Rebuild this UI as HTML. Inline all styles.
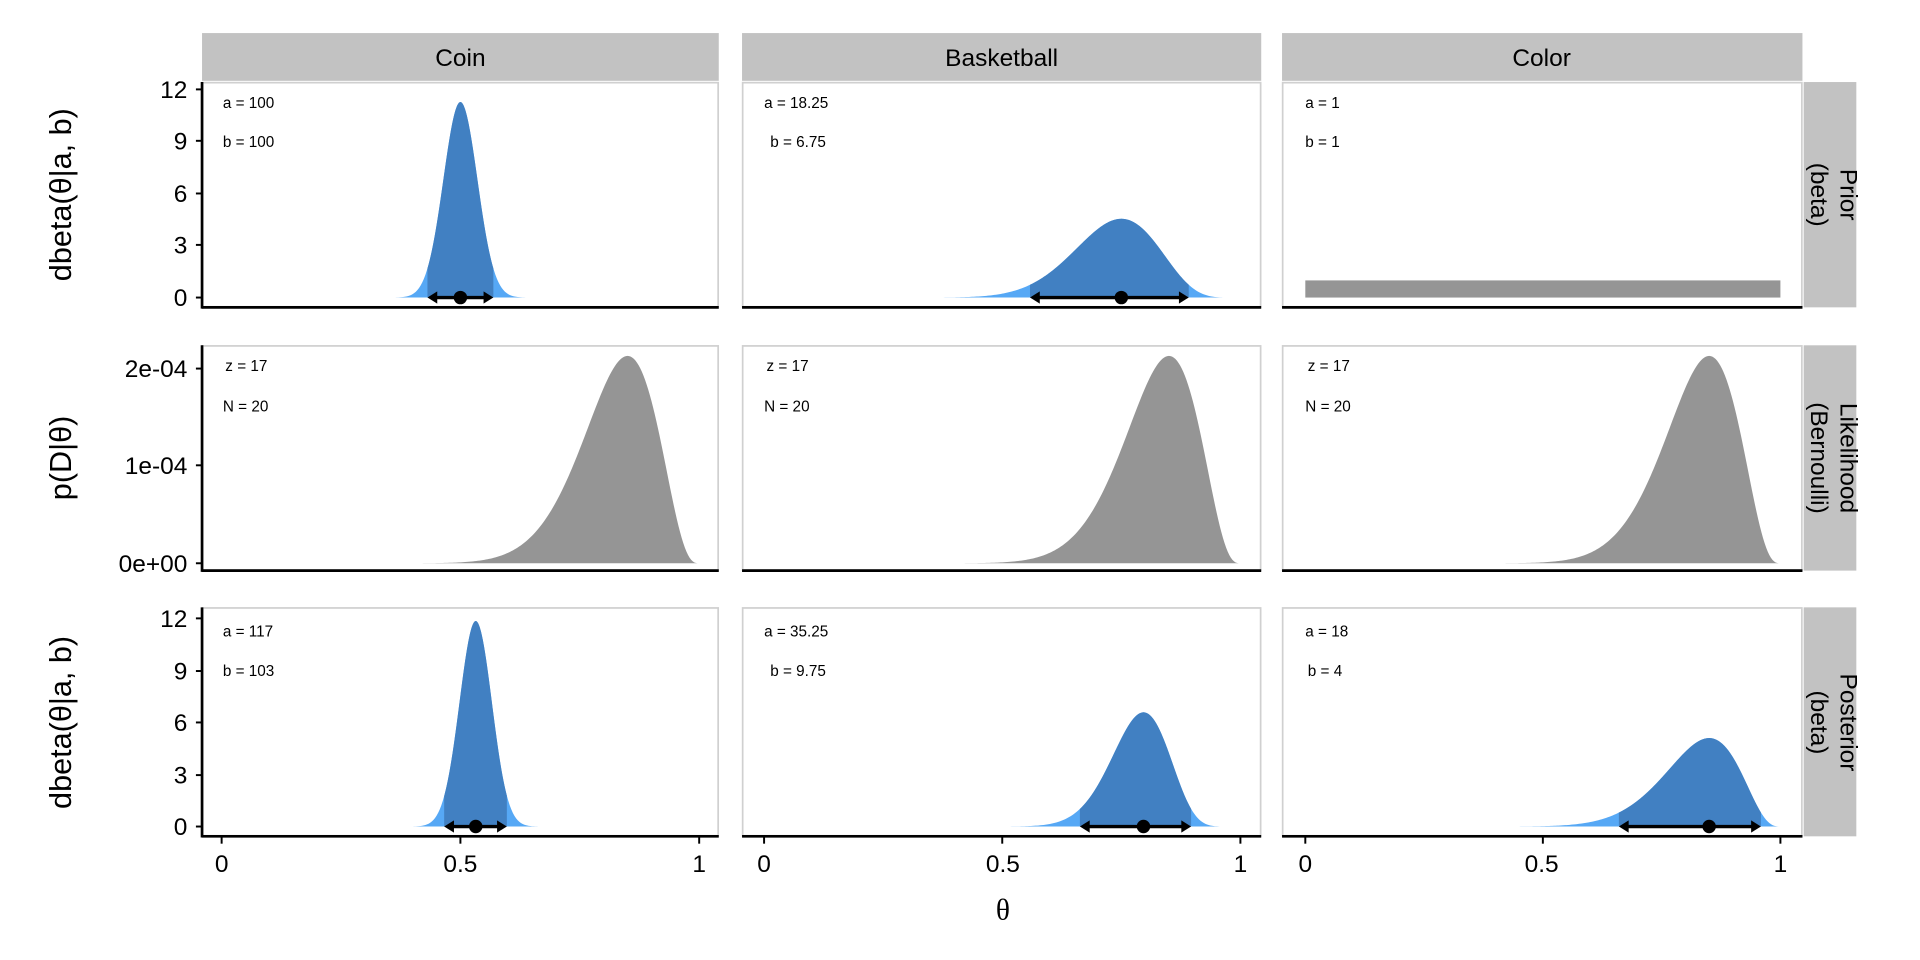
<!DOCTYPE html>
<html><head><meta charset="utf-8"><style>
html,body{margin:0;padding:0;background:#fff;}
svg{display:block;font-family:"Liberation Sans",Arial,sans-serif;}
</style></head><body>
<svg id="s" width="1920" height="960" viewBox="0 0 1568 784" xmlns="http://www.w3.org/2000/svg">
<rect width="1568" height="784" fill="#fff"/>
<g id="g"></g>
<rect x="165" y="27" width="422" height="39" fill="#c2c2c2"/>
<rect x="606" y="27" width="424" height="39" fill="#c2c2c2"/>
<rect x="1047" y="27" width="425" height="39" fill="#c2c2c2"/>
<text x="376" y="54" font-size="20" text-anchor="middle">Coin</text>
<text x="818" y="54" font-size="20" text-anchor="middle">Basketball</text>
<text x="1259" y="54" font-size="20" text-anchor="middle">Color</text>
<rect x="1473" y="67" width="43" height="184" fill="#c2c2c2"/>
<rect x="1473" y="282" width="43" height="184" fill="#c2c2c2"/>
<rect x="1473" y="496" width="43" height="187" fill="#c2c2c2"/>
<g font-size="20" text-anchor="middle">
<text transform="translate(1494,159) rotate(90)"><tspan x="0" y="-9">Prior</tspan><tspan x="0" y="15">(beta)</tspan></text>
<text transform="translate(1494,374) rotate(90)"><tspan x="0" y="-9">Likelihood</tspan><tspan x="0" y="15">(Bernoulli)</tspan></text>
<text transform="translate(1494,590) rotate(90)"><tspan x="0" y="-9">Posterior</tspan><tspan x="0" y="15">(beta)</tspan></text>
</g>
<g font-size="25" text-anchor="middle">
<text transform="translate(58,159) rotate(-90)">dbeta(θ|a, b)</text>
<text transform="translate(58,374) rotate(-90)">p(D|θ)</text>
<text transform="translate(58,590) rotate(-90)">dbeta(θ|a, b)</text>
</g>
<g font-size="20" text-anchor="end">
<text x="153" y="80">12</text><text x="153" y="122">9</text><text x="153" y="165">6</text><text x="153" y="207">3</text><text x="153" y="250">0</text>
<text x="153" y="308">2e-04</text><text x="153" y="387">1e-04</text><text x="153" y="467">0e+00</text>
<text x="153" y="512">12</text><text x="153" y="555">9</text><text x="153" y="597">6</text><text x="153" y="640">3</text><text x="153" y="682">0</text>
</g>
<g font-size="20" text-anchor="middle">
<text x="181" y="712">0</text><text x="376" y="712">0.5</text><text x="571" y="712">1</text>
<text x="624" y="712">0</text><text x="819" y="712">0.5</text><text x="1013" y="712">1</text>
<text x="1066" y="712">0</text><text x="1259" y="712">0.5</text><text x="1454" y="712">1</text>
</g>
<text x="819" y="751" font-size="24" text-anchor="middle" font-family="Liberation Serif,serif">θ</text>
<g font-size="12.5">
<text x="182" y="88">a = 100</text><text x="182" y="120">b = 100</text>
<text x="624" y="88">a = 18.25</text><text x="629" y="120">b = 6.75</text>
<text x="1066" y="88">a = 1</text><text x="1066" y="120">b = 1</text>
<text x="184" y="303">z = 17</text><text x="182" y="336">N = 20</text>
<text x="626" y="303">z = 17</text><text x="624" y="336">N = 20</text>
<text x="1068" y="303">z = 17</text><text x="1066" y="336">N = 20</text>
<text x="182" y="520">a = 117</text><text x="182" y="552">b = 103</text>
<text x="624" y="520">a = 35.25</text><text x="629" y="552">b = 9.75</text>
<text x="1066" y="520">a = 18</text><text x="1068" y="552">b = 4</text>
</g>
</svg>
<script>
(function(){
var NS="http://www.w3.org/2000/svg",g=document.getElementById('g');
function el(t,a){var e=document.createElementNS(NS,t);for(var k in a)e.setAttribute(k,a[k]);g.appendChild(e);return e;}
function lg(x){var c=[76.18009172947146,-86.50532032941677,24.01409824083091,-1.231739572450155,0.1208650973866179e-2,-0.5395239384953e-5];var y=x,t=x+5.5;t-=(x+0.5)*Math.log(t);var s=1.000000000190015;for(var j=0;j<6;j++)s+=c[j]/++y;return -t+Math.log(2.5066282746310005*s/x);}
function db(x,a,b){if(x<=0||x>=1)return 0;return Math.exp((a-1)*Math.log(x)+(b-1)*Math.log(1-x)+lg(a+b)-lg(a)-lg(b));}
var cols=[[165,587,181,571],[606,1030,624,1013],[1047,1472,1066,1454]];
var rows=[[67,251],[282,466],[496,683]];
rows.forEach(function(r){cols.forEach(function(c){el('rect',{x:c[0]+0.5,y:r[0]+0.5,width:c[1]-c[0]-1,height:r[1]-r[0]-1,fill:'#fff',stroke:'#d0d0d0','stroke-width':1.4});});});
function hdi(a,b){var N=4000,xs=[],ds=[],tot=0;for(var i=0;i<=N;i++){var x=i/N;var d=db(x,a,b);xs.push(x);ds.push(d);tot+=d;}
 var srt=ds.slice().sort(function(p,q){return q-p});var acc=0,th=0;for(var i=0;i<srt.length;i++){acc+=srt[i];if(acc>=0.95*tot){th=srt[i];break;}}
 var lo=1,hi=0;for(var i=0;i<=N;i++)if(ds[i]>=th){lo=Math.min(lo,xs[i]);hi=Math.max(hi,xs[i]);}return [lo,hi];}
function area(c,y0,sc,f,x1,x2,fill){var X=function(t){return c[2]+(c[3]-c[2])*t};var p='M'+X(x1)+','+y0;var n=300;for(var i=0;i<=n;i++){var t=x1+(x2-x1)*i/n;var v=f(t)*sc;p+=' L'+X(t).toFixed(2)+','+(y0-v).toFixed(2);}p+=' L'+X(x2)+','+y0+' Z';el('path',{d:p,fill:fill});}
function betaPanel(ci,ri,a,b){var c=cols[ci],r=rows[ri],y0=r[1]-8,sc=14.17;var f=function(t){return db(t,a,b)};
 area(c,y0,sc,f,0,1,'#56a8f5');var h=hdi(a,b);area(c,y0,sc,f,h[0],h[1],'#4180c2');
 var X=function(t){return c[2]+(c[3]-c[2])*t};var m=(a-1)/(a+b-2);
 el('line',{x1:X(h[0])+3,y1:y0,x2:X(h[1])-3,y2:y0,stroke:'#000','stroke-width':2.8});
 el('path',{d:'M'+X(h[0])+','+y0+' l8,-5 l0,10 Z',fill:'#000'});
 el('path',{d:'M'+X(h[1])+','+y0+' l-8,-5 l0,10 Z',fill:'#000'});
 el('circle',{cx:X(m),cy:y0,r:5.5,fill:'#000'});}
betaPanel(0,0,100,100);betaPanel(1,0,18.25,6.75);
var c=cols[2];el('rect',{x:c[2],y:229,width:c[3]-c[2],height:14,fill:'#959595'});
for(var i=0;i<3;i++){area(cols[i],460,79.5e4,function(t){return Math.pow(t,17)*Math.pow(1-t,3)},0,1,'#959595');}
betaPanel(0,2,117,103);betaPanel(1,2,35.25,9.75);betaPanel(2,2,18,4);
rows.forEach(function(r,ri){cols.forEach(function(c){el('line',{x1:c[0],y1:r[1],x2:c[1],y2:r[1],stroke:'#000','stroke-width':2.2});});
 el('line',{x1:165,y1:r[0],x2:165,y2:r[1]+1,stroke:'#000','stroke-width':2.2});});
[[73,115,158,200,243],[301,380,460],[505,548,590,633,675]].forEach(function(a){a.forEach(function(y){el('line',{x1:160,y1:y,x2:165,y2:y,stroke:'#000','stroke-width':1.6});});});
cols.forEach(function(c){[0,0.5,1].forEach(function(t){var x=c[2]+(c[3]-c[2])*t;el('line',{x1:x,y1:683,x2:x,y2:689,stroke:'#000','stroke-width':1.6});});});
})();
</script>
</body></html>
